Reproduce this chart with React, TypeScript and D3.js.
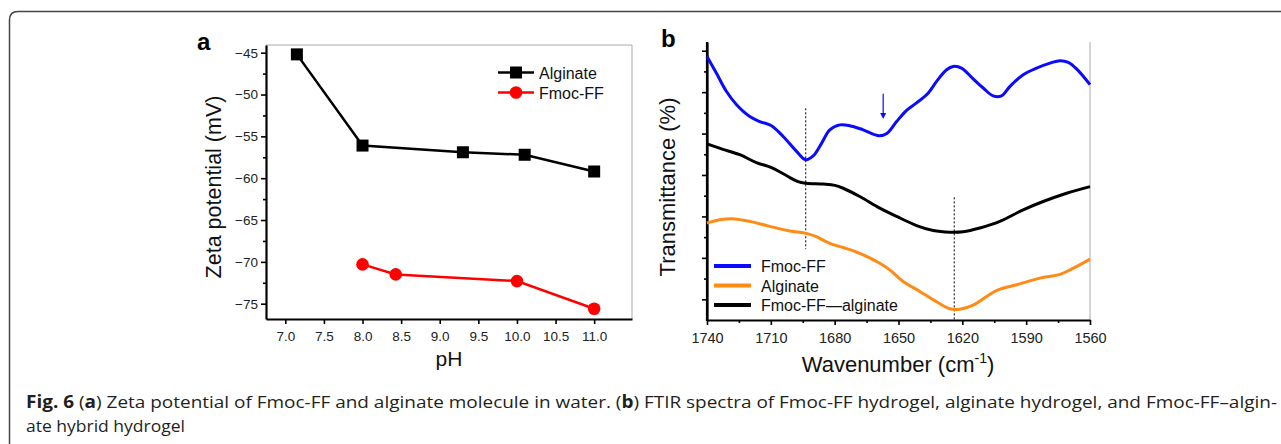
import React, { useEffect, useRef } from 'react';
import * as d3 from 'd3';

// Panel a — zeta potential vs pH
const ALGINATE_ZETA: [number, number][] = [
  [7.15, -45.2], [8.0, -56.1], [9.3, -56.9], [10.1, -57.2], [11.0, -59.2],
];
const FMOC_ZETA: [number, number][] = [
  [8.0, -70.3], [8.43, -71.5], [10.0, -72.3], [11.0, -75.6],
];
const PH_TICKS = [7.0, 7.5, 8.0, 8.5, 9.0, 9.5, 10.0, 10.5, 11.0];
const ZETA_TICKS = [-45, -50, -55, -60, -65, -70, -75];

// Panel b — FTIR spectra (arbitrary offset units)
const FMOC_FTIR: [number, number][] = [
  [1740, 5.86], [1735.6, 5.46], [1730.9, 5.02], [1726.2, 4.7], [1719.9, 4.41],
  [1715.2, 4.29], [1709.7, 4.19], [1704.2, 3.93], [1697.9, 3.57], [1693.6, 3.37],
  [1690.1, 3.46], [1686.1, 3.77], [1682.3, 4.09], [1677.6, 4.21], [1672.9, 4.19],
  [1666.6, 4.09], [1659.1, 3.95], [1655.3, 4.01], [1650.9, 4.29], [1646.2, 4.56],
  [1641.5, 4.74], [1636.0, 4.98], [1632.1, 5.26], [1627.4, 5.54], [1624.3, 5.62],
  [1620.4, 5.58], [1614.9, 5.32], [1610.2, 5.1], [1605.5, 4.91], [1601.6, 4.91],
  [1597.6, 5.14], [1591.4, 5.42], [1585.1, 5.58], [1578.8, 5.7], [1574.1, 5.76],
  [1570.2, 5.72], [1566.3, 5.56], [1560, 5.18],
];
const HYBRID_FTIR: [number, number][] = [
  [1740, 3.75], [1732.5, 3.62], [1724.6, 3.49], [1716.8, 3.3], [1709.7, 3.18],
  [1704.2, 3.03], [1697.2, 2.84], [1693.3, 2.8], [1685.4, 2.78], [1679.9, 2.75],
  [1676.0, 2.68], [1668.2, 2.48], [1658.8, 2.2], [1650.9, 2.0], [1641.5, 1.78],
  [1633.7, 1.66], [1625.9, 1.62], [1619.6, 1.63], [1611.8, 1.72], [1602.4, 1.88],
  [1591.4, 2.16], [1582.0, 2.36], [1571.0, 2.56], [1560, 2.72],
];
const ALGINATE_FTIR: [number, number][] = [
  [1740, 1.84], [1734.0, 1.92], [1727.0, 1.94], [1719.9, 1.88], [1710.5, 1.76],
  [1701.1, 1.65], [1693.3, 1.59], [1688.6, 1.51], [1682.3, 1.35], [1676.0, 1.25],
  [1668.2, 1.11], [1658.8, 0.87], [1654.1, 0.71], [1647.8, 0.43], [1640.0, 0.19],
  [1632.1, -0.06], [1625.9, -0.23], [1621.2, -0.24], [1614.9, -0.14], [1604.0, 0.21],
  [1594.5, 0.35], [1583.5, 0.51], [1574.1, 0.6], [1567.8, 0.75], [1560, 0.97],
];
const WN_TICKS = [1740, 1710, 1680, 1650, 1620, 1590, 1560];
const T_TICKS = [0, 1, 2, 3, 4, 5, 6];
// dotted guide lines: [wavenumber, from, to]
const GUIDES: [number, number, number][] = [
  [1693.6, 4.61, 1.21],
  [1623.8, 2.46, -0.5],
];
const ARROW: [number, number, number] = [1657.2, 4.96, 4.35];

const FONT = '"Liberation Sans", Arial, sans-serif';

export default function App() {
  const ref = useRef<SVGSVGElement>(null);

  useEffect(() => {
    const svg = d3.select(ref.current);
    svg.selectAll('*').remove();

    // frame
    svg.append('path')
      .attr('d', 'M9.5,460 L9.5,20 Q9.5,11.5 18,11.5 L1300,11.5')
      .attr('fill', 'none').attr('stroke', '#444').attr('stroke-width', 1.5);

    // ---------- panel a ----------
    const ax = d3.scaleLinear().domain([6.75, 11.49]).range([266, 632]);
    const ay = d3.scaleLinear().domain([-76.83, -44.08]).range([319, 45]);
    const ga = svg.append('g');

    ga.append('line').attr('x1', 632).attr('x2', 632).attr('y1', 45).attr('y2', 319).attr('stroke', '#aaa');
    ga.append('line').attr('x1', 266).attr('x2', 632).attr('y1', 45).attr('y2', 45).attr('stroke', '#aaa');

    const axA = ga.append('g').attr('transform', 'translate(0,319)')
      .call(d3.axisBottom(ax).tickValues(PH_TICKS).tickFormat(d3.format('.1f')).tickSize(5).tickSizeOuter(0));
    const ayA = ga.append('g').attr('transform', 'translate(266,0)')
      .call(d3.axisLeft(ay).tickValues(ZETA_TICKS).tickFormat(d3.format('d')).tickSize(5).tickSizeOuter(0));
    // minor y ticks
    ga.append('g').attr('transform', 'translate(266,0)')
      .call(d3.axisLeft(ay).tickValues(ZETA_TICKS.slice(0, -1).map((v) => v - 2.5)).tickFormat(() => '').tickSize(3).tickSizeOuter(0))
      .select('.domain').remove();

    [axA, ayA].forEach((g) => {
      g.select('.domain').attr('stroke', '#000').attr('stroke-width', 2.2);
      g.selectAll('.tick text').attr('font-family', FONT).attr('font-size', 13.5).attr('fill', '#222');
    });
    axA.selectAll('.tick text').attr('dy', '1.0em');
    ga.selectAll('.tick line').attr('stroke', '#000').attr('stroke-width', 1.6);

    const lineA = d3.line<[number, number]>().x((d) => ax(d[0])).y((d) => ay(d[1]));
    ga.append('path').attr('d', lineA(ALGINATE_ZETA)).attr('fill', 'none').attr('stroke', '#000').attr('stroke-width', 2.5);
    ga.append('path').attr('d', lineA(FMOC_ZETA)).attr('fill', 'none').attr('stroke', '#ff0000').attr('stroke-width', 2.5);
    ga.selectAll('.sq').data(ALGINATE_ZETA).join('rect')
      .attr('x', (d) => ax(d[0]) - 6).attr('y', (d) => ay(d[1]) - 6)
      .attr('width', 12).attr('height', 12).attr('fill', '#000');
    ga.selectAll('.ci').data(FMOC_ZETA).join('circle')
      .attr('cx', (d) => ax(d[0])).attr('cy', (d) => ay(d[1])).attr('r', 6.3).attr('fill', '#ff0000');

    // legend a
    const legA = [
      { name: 'Alginate', color: '#000', y: 72.5, shape: 'sq' },
      { name: 'Fmoc-FF', color: '#ff0000', y: 92.5, shape: 'ci' },
    ];
    legA.forEach((l) => {
      ga.append('line').attr('x1', 498).attr('x2', 534).attr('y1', l.y).attr('y2', l.y).attr('stroke', l.color).attr('stroke-width', 2.5);
      if (l.shape === 'sq') ga.append('rect').attr('x', 510).attr('y', l.y - 6).attr('width', 12).attr('height', 12).attr('fill', l.color);
      else ga.append('circle').attr('cx', 516).attr('cy', l.y).attr('r', 6.3).attr('fill', l.color);
      ga.append('text').attr('x', 539).attr('y', l.y + 6).attr('font-family', FONT).attr('font-size', 16).attr('fill', '#111').text(l.name);
    });

    ga.append('text').attr('x', 197).attr('y', 50).attr('font-family', FONT).attr('font-weight', 'bold').attr('font-size', 24).text('a');
    ga.append('text').attr('transform', 'translate(221,187) rotate(-90)').attr('text-anchor', 'middle')
      .attr('font-family', FONT).attr('font-size', 21.5).attr('fill', '#111').text('Zeta potential (mV)');
    ga.append('text').attr('x', 449).attr('y', 366).attr('text-anchor', 'middle')
      .attr('font-family', FONT).attr('font-size', 21).attr('fill', '#111').text('pH');

    // ---------- panel b ----------
    const bx = d3.scaleLinear().domain([1740, 1560]).range([707, 1090]);
    const by = d3.scaleLinear().domain([-0.5, 6.21]).range([320, 42]);
    const gb = svg.append('g');

    gb.append('line').attr('x1', 1090).attr('x2', 1090).attr('y1', 42).attr('y2', 320).attr('stroke', '#aaa');

    const axB = gb.append('g').attr('transform', 'translate(0,320)')
      .call(d3.axisBottom(bx).tickValues(WN_TICKS).tickFormat(d3.format('d')).tickSize(5).tickSizeOuter(0));
    const ayB = gb.append('g').attr('transform', 'translate(707,0)')
      .call(d3.axisLeft(by).tickValues(T_TICKS).tickFormat(() => '').tickSize(5).tickSizeOuter(0));
    gb.append('g').attr('transform', 'translate(0,320)')
      .call(d3.axisBottom(bx).tickValues(WN_TICKS.slice(0, -1).map((v) => v - 15)).tickFormat(() => '').tickSize(3).tickSizeOuter(0))
      .select('.domain').remove();
    gb.append('g').attr('transform', 'translate(707,0)')
      .call(d3.axisLeft(by).tickValues(T_TICKS.slice(0, -1).map((v) => v + 0.5)).tickFormat(() => '').tickSize(3).tickSizeOuter(0))
      .select('.domain').remove();
    [axB, ayB].forEach((g) => {
      g.select('.domain').attr('stroke', '#000').attr('stroke-width', 2.2);
      g.selectAll('.tick text').attr('font-family', FONT).attr('font-size', 14.5).attr('fill', '#222');
    });
    axB.selectAll('.tick text').attr('dy', '1.0em');
    gb.selectAll('.tick line').attr('stroke', '#000').attr('stroke-width', 1.6);
    // y domain line extends to top
    gb.append('line').attr('x1', 707).attr('x2', 707).attr('y1', 42).attr('y2', 321).attr('stroke', '#000').attr('stroke-width', 2.2);

    const lineB = d3.line<[number, number]>().x((d) => bx(d[0])).y((d) => by(d[1])).curve(d3.curveCatmullRom.alpha(0.5));
    GUIDES.forEach(([w, a, b]) => {
      gb.append('line').attr('x1', bx(w)).attr('x2', bx(w)).attr('y1', by(a)).attr('y2', by(b))
        .attr('stroke', '#000').attr('stroke-width', 1).attr('stroke-dasharray', '2,2');
    });
    const series = [
      { name: 'Fmoc-FF', data: FMOC_FTIR, color: '#0a0aff' },
      { name: 'Alginate', data: ALGINATE_FTIR, color: '#ff8a14' },
      { name: 'Fmoc-FF—alginate', data: HYBRID_FTIR, color: '#000' },
    ];
    series.forEach((s) => {
      gb.append('path').attr('d', lineB(s.data)).attr('fill', 'none').attr('stroke', s.color)
        .attr('stroke-width', 3).attr('stroke-linejoin', 'round');
    });

    // arrow
    const [aw, a0, a1] = ARROW;
    gb.append('line').attr('x1', bx(aw)).attr('x2', bx(aw)).attr('y1', by(a0)).attr('y2', by(a1) - 4)
      .attr('stroke', '#0a0aff').attr('stroke-width', 1.2);
    gb.append('path')
      .attr('d', `M${bx(aw) - 3},${by(a1) - 6} L${bx(aw)},${by(a1)} L${bx(aw) + 3},${by(a1) - 6} Z`)
      .attr('fill', '#0a0aff');

    // legend b
    series.forEach((s, i) => {
      const y = 266 + i * 19.5;
      gb.append('line').attr('x1', 714).attr('x2', 751).attr('y1', y).attr('y2', y).attr('stroke', s.color).attr('stroke-width', 4);
      gb.append('text').attr('x', 761).attr('y', y + 6).attr('font-family', FONT).attr('font-size', 16).attr('fill', '#111').text(s.name);
    });

    gb.append('text').attr('x', 661).attr('y', 47).attr('font-family', FONT).attr('font-weight', 'bold').attr('font-size', 24).text('b');
    gb.append('text').attr('transform', 'translate(675,187) rotate(-90)').attr('text-anchor', 'middle')
      .attr('font-family', FONT).attr('font-size', 22).attr('fill', '#111').text('Transmittance (%)');
    const xt = gb.append('text').attr('x', 898).attr('y', 372).attr('text-anchor', 'middle')
      .attr('font-family', FONT).attr('font-size', 22).attr('fill', '#111');
    xt.append('tspan').text('Wavenumber (cm');
    xt.append('tspan').attr('dy', -9).attr('font-size', 14).text('-1');
    xt.append('tspan').attr('dy', 9).text(')');

    // ---------- caption ----------
    const CAP_FONT = '"Open Sans", "Noto Sans", sans-serif';
    const c1 = svg.append('text').attr('x', 26).attr('y', 408).attr('font-family', CAP_FONT).attr('font-size', 17)
      .attr('fill', '#231f20').attr('textLength', 1251).attr('lengthAdjust', 'spacingAndGlyphs');
    c1.append('tspan').attr('font-weight', 'bold').text('Fig. 6');
    c1.append('tspan').text(' (');
    c1.append('tspan').attr('font-weight', 'bold').text('a');
    c1.append('tspan').text(') Zeta potential of Fmoc-FF and alginate molecule in water. (');
    c1.append('tspan').attr('font-weight', 'bold').text('b');
    c1.append('tspan').text(') FTIR spectra of Fmoc-FF hydrogel, alginate hydrogel, and Fmoc-FF–algin-');
    svg.append('text').attr('x', 26).attr('y', 432).attr('font-family', CAP_FONT).attr('font-size', 17)
      .attr('fill', '#231f20').attr('textLength', 159).attr('lengthAdjust', 'spacingAndGlyphs').text('ate hybrid hydrogel');
  }, []);

  return (
    <svg ref={ref} width={1281} height={444} viewBox="0 0 1281 444"
      style={{ position: 'absolute', left: 0, top: 0, background: '#fff' }} />
  );
}
